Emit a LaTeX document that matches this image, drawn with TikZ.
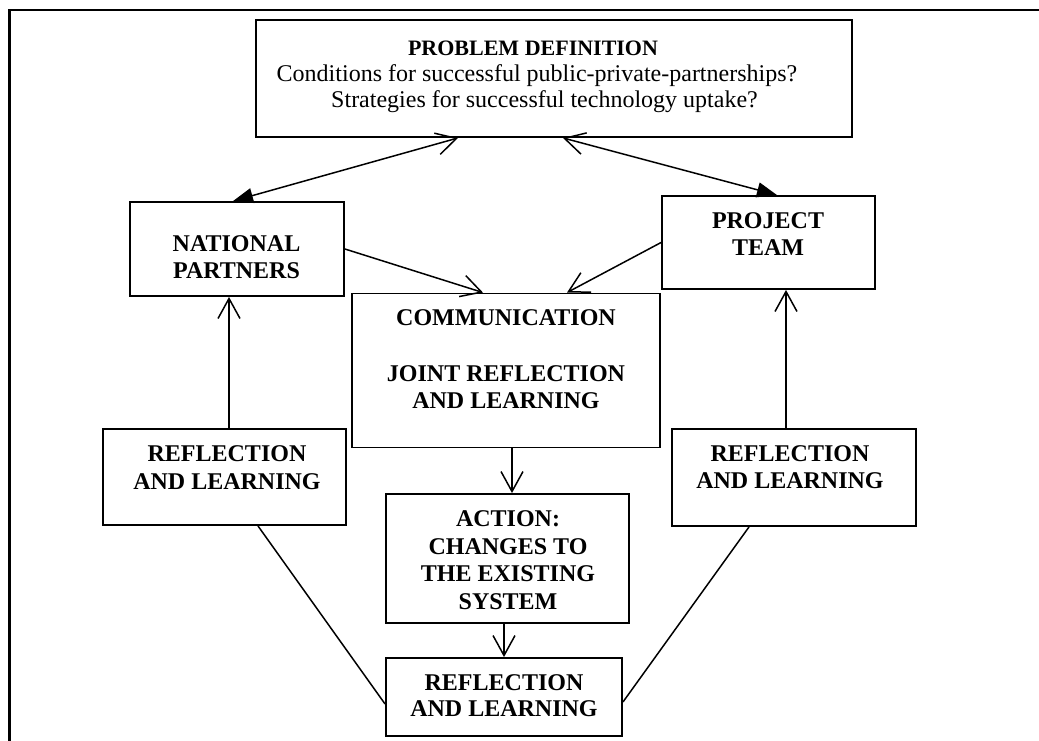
\documentclass[tikz,border=0pt]{standalone}
\usepackage{fontspec}
\setmainfont{Liberation Serif}
\usetikzlibrary{arrows.meta,calc}

\begin{document}
\begin{tikzpicture}[x=1pt,y=-1pt,
  box/.style={draw, line width=1.9pt, inner sep=0pt},
  head/.style={anchor=base, inner sep=0pt, font=\bfseries\fontsize{24pt}{27pt}\selectfont},
  qhead/.style={anchor=base, inner sep=0pt, font=\bfseries\fontsize{22pt}{26pt}\selectfont},
  qline/.style={anchor=base, inner sep=0pt, font=\fontsize{24pt}{26pt}\selectfont},
  conn/.style={line width=1.5pt},
  opentip/.style={conn, -{Straight Barb[length=20pt,width=22pt]}},
  twoway/.style={conn, {Straight Barb[length=20pt,width=22pt]}-{Triangle[length=20pt,width=15pt]}},
]
\useasboundingbox (0,0) rectangle (1039,740);
\clip (0,0) rectangle (1039,740);

% outer frame
\draw[line width=2.4pt] (9.5,760) -- (9.5,10) -- (1060,10) -- (1060,760);

% boxes
\node[box, minimum width=596pt, minimum height=117pt] (prob) at (554,78.5) {};
\node[box, minimum width=214pt, minimum height=94pt]  (nat)  at (237,249) {};
\node[box, minimum width=213pt, minimum height=93pt]  (proj) at (768.5,242.5) {};
\node[box, minimum width=308pt, minimum height=154pt] (comm) at (506,370.5) {};
\node[box, minimum width=243pt, minimum height=129pt] (act)  at (507.5,558.5) {};
\node[box, minimum width=236pt, minimum height=78pt]  (brl)  at (504,697) {};
\node[box, minimum width=243pt, minimum height=96pt]  (lrl)  at (224.5,477) {};
\node[box, minimum width=244pt, minimum height=97pt]  (rrl)  at (794,477.5) {};

% texts
\node[qhead] (prob-a) at (533,55.5) {PROBLEM DEFINITION};
\node[qline] (prob-b) at (537,81.5) {Conditions for successful public-private-partnerships?};
\node[qline] (prob-c) at (544.5,107) {Strategies for successful technology uptake?};

\node[head] (nat-a) at (236.5,251.7) {NATIONAL};
\node[head] (nat-b) at (236.5,278)   {PARTNERS};

\node[head] (proj-a) at (768,228.3) {PROJECT};
\node[head] (proj-b) at (768,255.7) {TEAM};

\node[head] (comm-a) at (506,325.7) {COMMUNICATION};
\node[head] (comm-b) at (506,381)   {JOINT REFLECTION};
\node[head] (comm-c) at (506,408.3) {AND LEARNING};

\node[head] (act-a) at (508,526.7) {ACTION:};
\node[head] (act-b) at (508,554.3) {CHANGES TO};
\node[head] (act-c) at (508,581.7) {THE EXISTING};
\node[head] (act-d) at (508,609.5) {SYSTEM};

\node[head] (brl-a) at (504,690)   {REFLECTION};
\node[head] (brl-b) at (504,716.7) {AND LEARNING};

\node[head] (lrl-a) at (227,461.7) {REFLECTION};
\node[head] (lrl-b) at (227,489)   {AND LEARNING};

\node[head] (rrl-a) at (790,461.7) {REFLECTION};
\node[head] (rrl-b) at (790,488.5) {AND LEARNING};

% connectors
\draw[twoway] ([xshift=-96pt]prob.south) -- ([xshift=-4pt]nat.north);
\draw[twoway] ([xshift=9pt]prob.south) -- ([xshift=8.5pt]proj.north);
\draw[opentip] (nat.east) -- ([xshift=-23pt]comm.north);
\draw[opentip] (proj.west) -- ([xshift=61pt]comm.north);
\draw[opentip] ([xshift=6pt]comm.south) -- ([xshift=6pt]comm.south |- act.north);
\draw[opentip] (brl.north |- act.south) -- (brl.north);
\draw[opentip] ([xshift=4.5pt]lrl.north) -- ([xshift=4.5pt]lrl.north |- nat.south);
\draw[opentip] ([xshift=-8pt]rrl.north) -- ([xshift=-8pt]rrl.north |- proj.south);
\draw[conn] ([xshift=33.5pt]lrl.south) -- ([yshift=-7pt]brl.west);
\draw[conn] ([xshift=-45pt]rrl.south) -- ([yshift=-5pt]brl.east);
\end{tikzpicture}
\end{document}
